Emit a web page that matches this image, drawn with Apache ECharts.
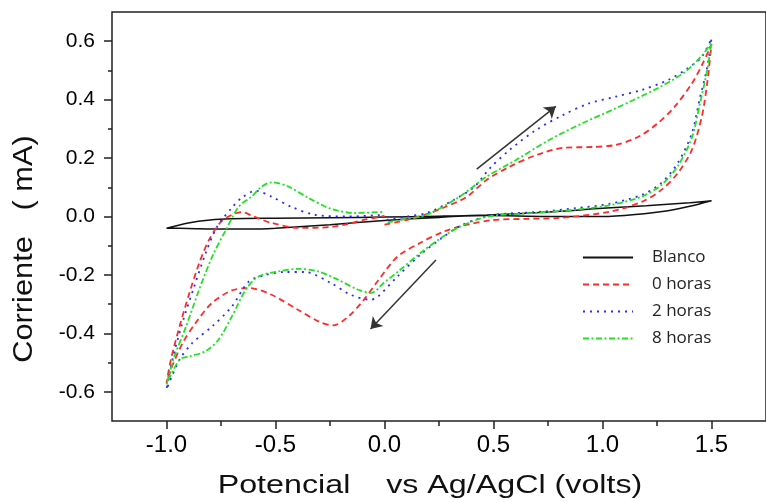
<!DOCTYPE html>
<html>
<head>
<meta charset="utf-8">
<title>Voltametría cíclica</title>
<script src="https://cdn.jsdelivr.net/npm/echarts@6/dist/echarts.min.js"></script>
<style>
  html, body { margin: 0; padding: 0; background: #fff; }
  #main { width: 766px; height: 502px; }
</style>
</head>
<body>
<div id="main"></div>
<script>
// tick labels
var xTicks = [-1.0, -0.5, 0.0, 0.5, 1.0, 1.5];
var yTicks = [-0.6, -0.4, -0.2, 0.0, 0.2, 0.4, 0.6];
var seriesNames = ['Blanco', '0 horas', '2 horas', '8 horas'];

// [potencial (V), corriente (mA)], en orden de barrido
var blanco = [
  [-1.0, -0.04], [-0.9, -0.022], [-0.8, -0.012], [-0.7, -0.008], [-0.5, -0.006],
  [-0.25, -0.004], [0.0, -0.002], [0.25, 0.001], [0.47, 0.005], [0.75, 0.015],
  [1.0, 0.028], [1.2, 0.037], [1.4, 0.047], [1.5, 0.054],
  [1.4, 0.035], [1.3, 0.02], [1.15, 0.007], [1.0, 0.0], [0.75, 0.0], [0.47, 0.003],
  [0.25, -0.003], [0.0, -0.014], [-0.25, -0.028], [-0.5, -0.04], [-0.62, -0.043],
  [-0.75, -0.043], [-0.9, -0.041], [-1.0, -0.04]
];
var horas0 = [
  [0.0, -0.028], [0.1, -0.012], [0.195, 0.008], [0.27, 0.03], [0.377, 0.067],
  [0.468, 0.125], [0.573, 0.17], [0.695, 0.21], [0.82, 0.235], [0.955, 0.238],
  [1.06, 0.245], [1.165, 0.273], [1.255, 0.32], [1.33, 0.375], [1.41, 0.455],
  [1.46, 0.524], [1.5, 0.59],
  [1.48, 0.455], [1.455, 0.34], [1.41, 0.228], [1.345, 0.148], [1.27, 0.091],
  [1.18, 0.05], [1.03, 0.016], [0.8, -0.005], [0.65, -0.008], [0.5, -0.012],
  [0.38, -0.028], [0.27, -0.052], [0.165, -0.09], [0.06, -0.137], [-0.03, -0.22],
  [-0.1, -0.29], [-0.17, -0.345], [-0.236, -0.373], [-0.3, -0.36], [-0.395, -0.32],
  [-0.518, -0.268], [-0.62, -0.245], [-0.7, -0.253], [-0.79, -0.295], [-0.865, -0.363],
  [-0.925, -0.432], [-0.98, -0.523], [-1.0, -0.57],
  [-0.98, -0.49], [-0.94, -0.376], [-0.895, -0.262], [-0.85, -0.16], [-0.805, -0.08],
  [-0.75, -0.018], [-0.7, 0.006], [-0.655, 0.015], [-0.6, 0.0], [-0.518, -0.022],
  [-0.395, -0.039], [-0.245, -0.036], [-0.09, -0.011], [0.0, 0.002]
];
var horas2 = [
  [0.01, -0.012], [0.1, 0.0], [0.195, 0.012], [0.318, 0.057], [0.41, 0.1],
  [0.483, 0.165], [0.574, 0.228], [0.695, 0.296], [0.818, 0.347], [0.937, 0.387],
  [1.06, 0.41], [1.18, 0.433], [1.3, 0.467], [1.39, 0.507], [1.455, 0.546], [1.5, 0.61],
  [1.48, 0.51], [1.445, 0.4], [1.41, 0.285], [1.345, 0.183], [1.27, 0.115],
  [1.18, 0.074], [1.03, 0.043], [0.88, 0.029], [0.73, 0.017], [0.5, 0.006],
  [0.42, -0.01], [0.34, -0.035], [0.27, -0.07], [0.165, -0.13], [0.06, -0.205],
  [-0.03, -0.274], [-0.063, -0.285], [-0.155, -0.268], [-0.245, -0.228], [-0.365, -0.19],
  [-0.455, -0.19], [-0.545, -0.2], [-0.623, -0.223], [-0.7, -0.308], [-0.79, -0.376],
  [-0.88, -0.432], [-0.94, -0.49], [-1.0, -0.592],
  [-0.973, -0.49], [-0.927, -0.364], [-0.873, -0.24], [-0.82, -0.125], [-0.768, -0.035],
  [-0.7, 0.03], [-0.655, 0.064], [-0.59, 0.088], [-0.518, 0.068], [-0.427, 0.033],
  [-0.32, 0.006], [-0.17, 0.0], [0.0, 0.006]
];
var horas8 = [
  [0.014, -0.02], [0.1, -0.008], [0.195, 0.006], [0.345, 0.068], [0.468, 0.136],
  [0.605, 0.194], [0.755, 0.262], [0.91, 0.32], [1.06, 0.37], [1.255, 0.44],
  [1.377, 0.494], [1.455, 0.55], [1.5, 0.595],
  [1.48, 0.5], [1.445, 0.38], [1.41, 0.27], [1.345, 0.172], [1.27, 0.108],
  [1.18, 0.068], [1.03, 0.038], [0.88, 0.024], [0.73, 0.014], [0.5, 0.003],
  [0.42, -0.012], [0.34, -0.037], [0.27, -0.068], [0.165, -0.125], [0.06, -0.19],
  [0.0, -0.225], [-0.063, -0.262], [-0.123, -0.25], [-0.214, -0.216], [-0.305, -0.188],
  [-0.395, -0.179], [-0.486, -0.188], [-0.577, -0.205], [-0.636, -0.25], [-0.7, -0.342],
  [-0.76, -0.42], [-0.82, -0.461], [-0.895, -0.479], [-0.94, -0.49], [-1.0, -0.575],
  [-0.964, -0.479], [-0.91, -0.376], [-0.85, -0.25], [-0.79, -0.137], [-0.727, -0.045],
  [-0.668, 0.034], [-0.61, 0.068], [-0.564, 0.102], [-0.518, 0.117], [-0.44, 0.102],
  [-0.35, 0.064], [-0.245, 0.026], [-0.136, 0.012], [0.0, 0.016]
];
// flechas de sentido del barrido
var arrowForward = [[0.423, 0.162], [0.786, 0.377]];
var arrowReverse = [[0.236, -0.149], [-0.064, -0.385]];

var axisColor = '#222';
var fmt = function (v) { return (Math.abs(v) < 1e-9 ? 0 : v).toFixed(1); };
// marcas menores a mitad de camino entre las principales
function minorOf(ticks) {
  var out = [];
  for (var i = 0; i < ticks.length - 1; i++) out.push((ticks[i] + ticks[i + 1]) / 2);
  return out;
}

function valueAxis(min, max, pos, majors, minors, tickLen, labelOpt) {
  return {
    type: 'value', min: min, max: max, position: pos,
    axisLine: { show: false, onZero: false },
    splitLine: { show: false },
    axisTick: {
      show: true, length: tickLen, customValues: majors || minors,
      lineStyle: { color: axisColor, width: 1.5 }
    },
    axisLabel: labelOpt ? Object.assign({ customValues: majors, formatter: fmt, color: '#000',
      fontFamily: 'Liberation Sans' }, labelOpt) : { show: false }
  };
}

var chart = echarts.init(document.getElementById('main'));

var option = {
  animation: false,
  backgroundColor: '#fff',
  // -1.25..1.75 V, -0.7..0.7 mA; el borde derecho queda fuera de la imagen
  grid: { left: 112, top: 12, width: 660, height: 409, show: true, borderColor: axisColor, borderWidth: 1.5 },
  xAxis: [
    valueAxis(-1.25, 1.75, 'bottom', xTicks, null, 8, { fontSize: 24, margin: 12 }),
    valueAxis(-1.25, 1.75, 'bottom', null, minorOf(xTicks), 5, null)
  ],
  yAxis: [
    valueAxis(-0.7, 0.7, 'left', yTicks, null, 8, { fontSize: 21, margin: 17 }),
    valueAxis(-0.7, 0.7, 'left', null, minorOf(yTicks), 4, null)
  ],
  legend: {
    data: seriesNames,
    orient: 'vertical',
    left: 577,
    top: 244,
    itemWidth: 50,
    itemHeight: 14,
    itemGap: 10,
    itemStyle: { opacity: 0 },
    textStyle: { fontFamily: 'Open Sans', fontSize: 17, color: '#222', padding: [0, 0, 0, 14] }
  },
  series: [
    {
      name: seriesNames[0], type: 'line', data: blanco, symbol: 'none', smooth: 0.3,
      lineStyle: { color: '#111', width: 1.5 }, itemStyle: { color: '#111' },
      markLine: {
        silent: true,
        symbol: ['none', 'arrow'],
        symbolSize: 11,
        label: { show: false },
        lineStyle: { color: '#333', width: 1.5, type: 'solid' },
        data: [
          [{ coord: arrowForward[0] }, { coord: arrowForward[1] }],
          [{ coord: arrowReverse[0] }, { coord: arrowReverse[1] }]
        ]
      }
    },
    {
      name: seriesNames[1], type: 'line', data: horas0, symbol: 'none', smooth: 0.3,
      lineStyle: { color: '#ff2a2a', width: 1.8, type: [6, 4] }, itemStyle: { color: '#ff2a2a' }
    },
    {
      name: seriesNames[2], type: 'line', data: horas2, symbol: 'none', smooth: 0.3,
      lineStyle: { color: '#2a2aff', width: 1.8, type: [2, 5] }, itemStyle: { color: '#2a2aff' }
    },
    {
      name: seriesNames[3], type: 'line', data: horas8, symbol: 'none', smooth: 0.3,
      lineStyle: { color: '#22e022', width: 1.8, type: [6, 2.5, 2, 2.5] }, itemStyle: { color: '#22e022' }
    }
  ],
  graphic: [
    {
      type: 'text', x: 430, y: 486, scaleX: 1.24,
      style: {
        text: 'Potencial    vs Ag/AgCl (volts)',
        font: '26px "Liberation Sans"', fill: '#111',
        textAlign: 'center', textVerticalAlign: 'middle'
      }
    },
    {
      type: 'text', x: 24, y: 249, rotation: Math.PI / 2, scaleX: 1.1,
      style: {
        text: 'Corriente   ( mA)',
        font: '28px "Liberation Sans"', fill: '#111',
        textAlign: 'center', textVerticalAlign: 'middle'
      }
    }
  ]
};

chart.setOption(option);
</script>
</body>
</html>
